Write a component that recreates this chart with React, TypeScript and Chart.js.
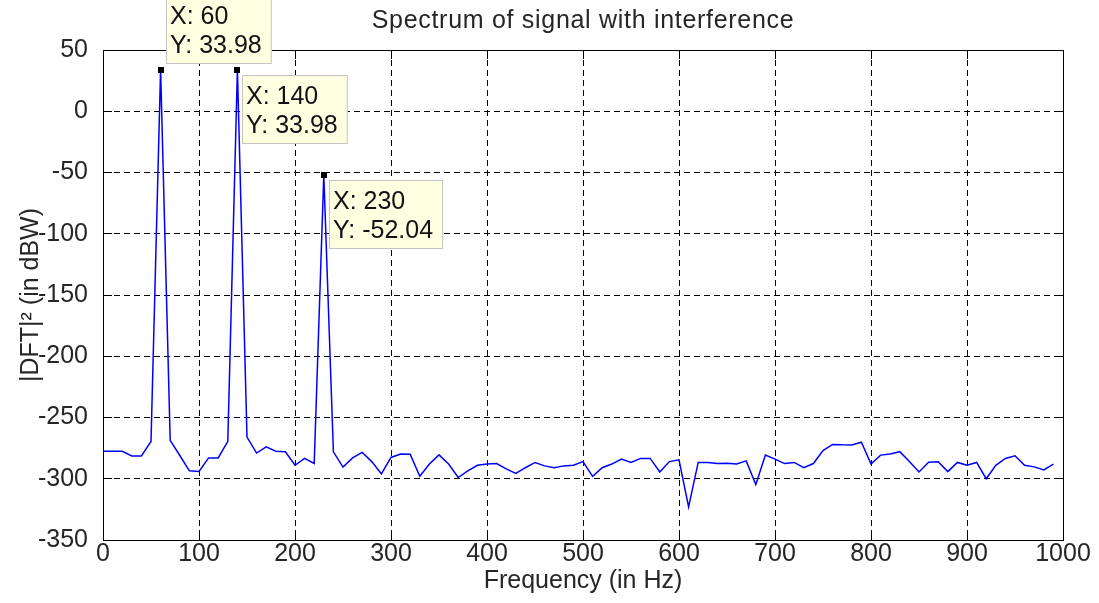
import { useEffect, useRef } from 'react';
import { Chart, registerables } from 'chart.js';

Chart.register(...registerables);

const titleText = 'Spectrum of signal with interference';
const xAxisTitle = 'Frequency (in Hz)';
const yAxisTitle = '|DFT|\u00B2 (in dBW)';

const frequencies = [
  0, 10, 20, 30, 40, 50, 60, 70, 80, 90,
  100, 110, 120, 130, 140, 150, 160, 170, 180, 190,
  200, 210, 220, 230, 240, 250, 260, 270, 280, 290,
  300, 310, 320, 330, 340, 350, 360, 370, 380, 390,
  400, 410, 420, 430, 440, 450, 460, 470, 480, 490,
  500, 510, 520, 530, 540, 550, 560, 570, 580, 590,
  600, 610, 620, 630, 640, 650, 660, 670, 680, 690,
  700, 710, 720, 730, 740, 750, 760, 770, 780, 790,
  800, 810, 820, 830, 840, 850, 860, 870, 880, 890,
  900, 910, 920, 930, 940, 950, 960, 970, 980, 990,
];

const powerDb = [
  -277.6, -277.6, -277.6, -281.4, -281.4, -269.6, 33.98, -268.6, -281, -293.5,
  -294, -283, -283, -269.5, 33.98, -266, -279, -274, -277.5, -278,
  -289, -283.4, -287.5, -52.04, -278, -290.5, -283, -278.5, -286, -296,
  -282.6, -279.8, -280, -298, -288, -280.5, -288, -299, -293.6, -289,
  -288, -287.6, -292, -295.6, -291, -286.7, -289.5, -291, -289.5, -289,
  -286, -298, -291, -288, -284, -286.7, -283.4, -283.4, -294.5, -286,
  -284.5, -323, -286.7, -286.7, -287.5, -287.3, -288, -285.4, -304.7, -280.7,
  -284, -287.6, -286.7, -291, -287.6, -277, -272, -272.3, -272.4, -270.2,
  -288, -280.7, -279.8, -277.9, -286, -294.5, -286.5, -286.2, -294.2, -286.7,
  -289, -286.7, -300, -289, -283.4, -281.2, -289, -290.3, -292.8, -288,
];

const xTicks = [0, 100, 200, 300, 400, 500, 600, 700, 800, 900, 1000];
const yTicks = [50, 0, -50, -100, -150, -200, -250, -300, -350];

const tipFreqs = [60, 140, 230];
const tipValues = [33.98, 33.98, -52.04];
const tipPlacement = ['above', 'below', 'below'];

const FONT = '"Liberation Sans", Arial, Helvetica, sans-serif';
const TEXT_COLOR = '#262626';

const align = (p: number) => Math.round(p - 0.5) + 0.5;

const framePlugin = {
  id: 'matlabFrame',
  beforeDatasetsDraw(chart: any) {
    const { ctx, chartArea, scales } = chart;
    const { left, right, top, bottom } = chartArea;
    const x = scales.x;
    const y = scales.y;
    const L = 9;
    ctx.save();
    ctx.strokeStyle = '#000';
    ctx.lineWidth = 1;
    ctx.setLineDash([]);
    ctx.beginPath();
    xTicks.forEach((v) => {
      const px = align(x.getPixelForValue(v));
      ctx.moveTo(px, bottom);
      ctx.lineTo(px, bottom - L);
      ctx.moveTo(px, top);
      ctx.lineTo(px, top + L);
    });
    yTicks.forEach((v) => {
      const py = align(y.getPixelForValue(v));
      ctx.moveTo(left, py);
      ctx.lineTo(left + L, py);
      ctx.moveTo(right, py);
      ctx.lineTo(right - L, py);
    });
    ctx.stroke();
    const l = align(left);
    const r = align(right);
    const t = align(top);
    const b = align(bottom);
    ctx.strokeRect(l, t, r - l, b - t);
    ctx.restore();
  },
  afterDraw(chart: any) {
    const { ctx, chartArea } = chart;
    ctx.save();
    ctx.font = `25px ${FONT}`;
    (ctx as any).letterSpacing = '0.7px';
    ctx.fillStyle = TEXT_COLOR;
    ctx.textAlign = 'center';
    ctx.textBaseline = 'middle';
    ctx.fillText(titleText, (chartArea.left + chartArea.right) / 2, 21);
    ctx.restore();
  },
};

const dataTipPlugin = {
  id: 'dataTips',
  afterDraw(chart: any) {
    const { ctx, scales } = chart;
    const x = scales.x;
    const y = scales.y;
    ctx.save();
    ctx.font = `25px ${FONT}`;
    tipFreqs.forEach((f, i) => {
      const px = x.getPixelForValue(f);
      const py = y.getPixelForValue(tipValues[i]);
      const lines = [`X: ${f}`, `Y: ${tipValues[i].toFixed(2)}`];
      const w = Math.max(...lines.map((s) => ctx.measureText(s).width)) + 14;
      const h = 69;
      const bx = Math.round(px + 5);
      const by = Math.round(tipPlacement[i] === 'above' ? py - 6 - h : py + 5);
      ctx.fillStyle = '#FFFFE1';
      ctx.fillRect(bx, by, w, h);
      ctx.strokeStyle = '#c4c4c4';
      ctx.lineWidth = 1;
      ctx.strokeRect(bx + 0.5, by + 0.5, w - 1, h - 1);
      ctx.fillStyle = '#111';
      ctx.textAlign = 'left';
      ctx.textBaseline = 'alphabetic';
      ctx.fillText(lines[0], bx + 4, by + 28.5);
      ctx.fillText(lines[1], bx + 4, by + 57.5);
      ctx.fillStyle = '#000';
      ctx.fillRect(Math.round(px - 3), Math.round(py - 3), 6, 6);
    });
    ctx.restore();
  },
};

export default function App() {
  const canvasRef = useRef<HTMLCanvasElement | null>(null);

  useEffect(() => {
    if (!canvasRef.current) return;
    const chart = new Chart(canvasRef.current, {
      type: 'line',
      data: {
        datasets: [
          {
            label: 'spectrum',
            data: frequencies.map((f, i) => ({ x: f, y: powerDb[i] })),
            borderColor: '#0000FF',
            borderWidth: 1.5,
            pointRadius: 0,
            tension: 0,
            fill: false,
          },
        ],
      },
      options: {
        animation: false,
        responsive: true,
        maintainAspectRatio: false,
        layout: { padding: { left: 0, right: 36, top: 50, bottom: 0 } },
        plugins: {
          legend: { display: false },
          tooltip: { enabled: false },
          title: { display: false },
        },
        scales: {
          x: {
            type: 'linear',
            min: 0,
            max: 1000,
            afterBuildTicks: (scale: any) => {
              scale.ticks = xTicks.map((v) => ({ value: v }));
            },
            afterFit: (scale: any) => {
              scale.height = 63;
            },
            ticks: {
              color: TEXT_COLOR,
              font: { family: FONT, size: 25 },
              padding: -1,
              maxRotation: 0,
              autoSkip: false,
              callback: (v: any) => String(v),
            },
            grid: { color: '#000', lineWidth: 1, drawTicks: false },
            border: { display: true, color: '#000', width: 1, dash: [6, 4] },
            title: {
              display: true,
              text: xAxisTitle,
              color: TEXT_COLOR,
              font: { family: FONT, size: 25 },
              padding: { top: 0, bottom: 7 },
            },
          },
          y: {
            type: 'linear',
            min: -350,
            max: 50,
            afterBuildTicks: (scale: any) => {
              scale.ticks = yTicks.map((v) => ({ value: v }));
            },
            afterFit: (scale: any) => {
              scale.width = 103;
            },
            ticks: {
              color: TEXT_COLOR,
              font: { family: FONT, size: 25 },
              padding: 15,
              autoSkip: false,
              callback: (v: any) => String(v),
            },
            grid: { color: '#000', lineWidth: 1, drawTicks: false },
            border: { display: true, color: '#000', width: 1, dash: [6, 4] },
            title: {
              display: true,
              text: yAxisTitle,
              color: TEXT_COLOR,
              font: { family: FONT, size: 25 },
              padding: { top: 16, bottom: 0 },
            },
          },
        },
      },
      plugins: [framePlugin, dataTipPlugin],
    } as any);
    return () => chart.destroy();
  }, []);

  return (
    <div style={{ position: 'fixed', left: 0, top: 0, width: 1099, height: 603, background: '#fff' }}>
      <canvas ref={canvasRef} />
    </div>
  );
}
